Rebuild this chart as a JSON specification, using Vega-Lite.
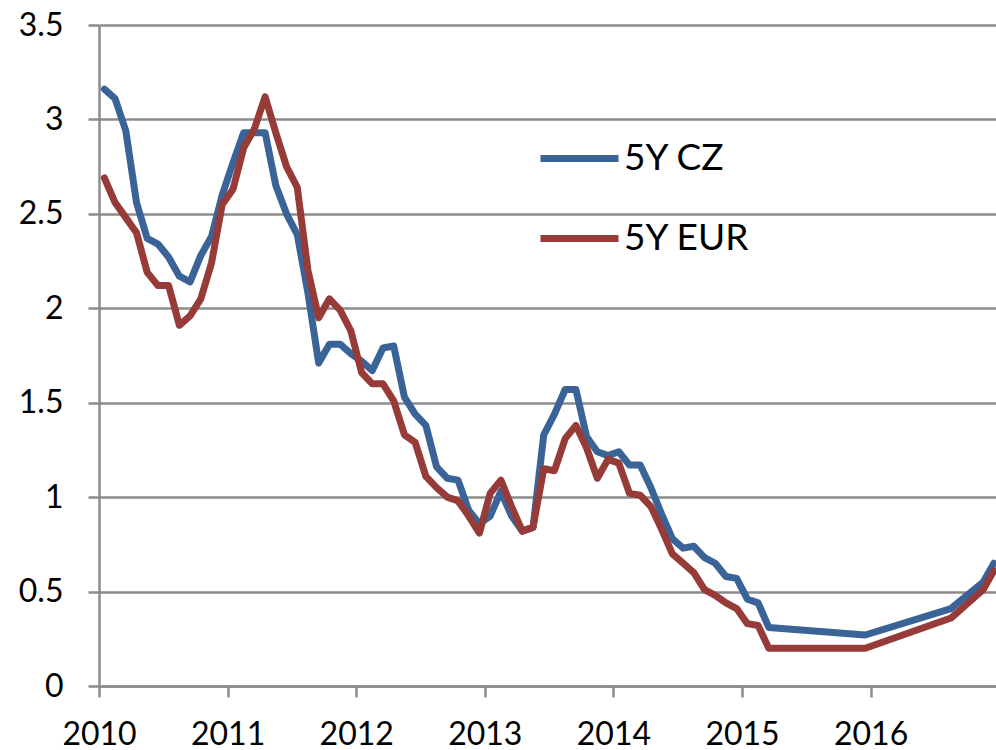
{
  "$schema": "https://vega.github.io/schema/vega-lite/v6.json",
  "width": 897,
  "height": 661,
  "autosize": {"type": "none"},
  "padding": {"left": 99, "top": 25, "right": 0, "bottom": 64},
  "background": "white",
  "config": {
    "view": {"stroke": null},
    "font": "Lato"
  },
  "datasets": {
    "rates": [
      {"t": 2010.0417, "s": "5Y CZ", "v": 3.16}, {"t": 2010.125, "s": "5Y CZ", "v": 3.11}, {"t": 2010.2083, "s": "5Y CZ", "v": 2.94}, {"t": 2010.2917, "s": "5Y CZ", "v": 2.56},
      {"t": 2010.375, "s": "5Y CZ", "v": 2.37}, {"t": 2010.4583, "s": "5Y CZ", "v": 2.34}, {"t": 2010.5417, "s": "5Y CZ", "v": 2.27}, {"t": 2010.625, "s": "5Y CZ", "v": 2.17},
      {"t": 2010.7083, "s": "5Y CZ", "v": 2.14}, {"t": 2010.7917, "s": "5Y CZ", "v": 2.28}, {"t": 2010.875, "s": "5Y CZ", "v": 2.38}, {"t": 2010.9583, "s": "5Y CZ", "v": 2.6},
      {"t": 2011.0417, "s": "5Y CZ", "v": 2.77}, {"t": 2011.125, "s": "5Y CZ", "v": 2.93}, {"t": 2011.2083, "s": "5Y CZ", "v": 2.93}, {"t": 2011.2917, "s": "5Y CZ", "v": 2.93},
      {"t": 2011.375, "s": "5Y CZ", "v": 2.65}, {"t": 2011.4583, "s": "5Y CZ", "v": 2.5}, {"t": 2011.5417, "s": "5Y CZ", "v": 2.39}, {"t": 2011.625, "s": "5Y CZ", "v": 2.08},
      {"t": 2011.7083, "s": "5Y CZ", "v": 1.71}, {"t": 2011.7917, "s": "5Y CZ", "v": 1.81}, {"t": 2011.875, "s": "5Y CZ", "v": 1.81}, {"t": 2011.9583, "s": "5Y CZ", "v": 1.76},
      {"t": 2012.0417, "s": "5Y CZ", "v": 1.72}, {"t": 2012.125, "s": "5Y CZ", "v": 1.67}, {"t": 2012.2083, "s": "5Y CZ", "v": 1.79}, {"t": 2012.2917, "s": "5Y CZ", "v": 1.8},
      {"t": 2012.375, "s": "5Y CZ", "v": 1.53}, {"t": 2012.4583, "s": "5Y CZ", "v": 1.44}, {"t": 2012.5417, "s": "5Y CZ", "v": 1.38}, {"t": 2012.625, "s": "5Y CZ", "v": 1.16},
      {"t": 2012.7083, "s": "5Y CZ", "v": 1.1}, {"t": 2012.7917, "s": "5Y CZ", "v": 1.09}, {"t": 2012.875, "s": "5Y CZ", "v": 0.93}, {"t": 2012.9583, "s": "5Y CZ", "v": 0.86},
      {"t": 2013.0417, "s": "5Y CZ", "v": 0.9}, {"t": 2013.125, "s": "5Y CZ", "v": 1.03}, {"t": 2013.2083, "s": "5Y CZ", "v": 0.9}, {"t": 2013.2917, "s": "5Y CZ", "v": 0.82},
      {"t": 2013.375, "s": "5Y CZ", "v": 0.84}, {"t": 2013.4583, "s": "5Y CZ", "v": 1.33}, {"t": 2013.5417, "s": "5Y CZ", "v": 1.44}, {"t": 2013.625, "s": "5Y CZ", "v": 1.57},
      {"t": 2013.7083, "s": "5Y CZ", "v": 1.57}, {"t": 2013.7917, "s": "5Y CZ", "v": 1.32}, {"t": 2013.875, "s": "5Y CZ", "v": 1.24}, {"t": 2013.9583, "s": "5Y CZ", "v": 1.22},
      {"t": 2014.0417, "s": "5Y CZ", "v": 1.24}, {"t": 2014.125, "s": "5Y CZ", "v": 1.17}, {"t": 2014.2083, "s": "5Y CZ", "v": 1.17}, {"t": 2014.2917, "s": "5Y CZ", "v": 1.05},
      {"t": 2014.375, "s": "5Y CZ", "v": 0.91}, {"t": 2014.4583, "s": "5Y CZ", "v": 0.78}, {"t": 2014.5417, "s": "5Y CZ", "v": 0.73}, {"t": 2014.625, "s": "5Y CZ", "v": 0.74},
      {"t": 2014.7083, "s": "5Y CZ", "v": 0.68}, {"t": 2014.7917, "s": "5Y CZ", "v": 0.65}, {"t": 2014.875, "s": "5Y CZ", "v": 0.58}, {"t": 2014.9583, "s": "5Y CZ", "v": 0.57},
      {"t": 2015.0417, "s": "5Y CZ", "v": 0.46}, {"t": 2015.125, "s": "5Y CZ", "v": 0.44}, {"t": 2015.2083, "s": "5Y CZ", "v": 0.31},
      {"t": 2015.9583, "s": "5Y CZ", "v": 0.27}, {"t": 2016.625, "s": "5Y CZ", "v": 0.41}, {"t": 2016.875, "s": "5Y CZ", "v": 0.55}, {"t": 2016.9583, "s": "5Y CZ", "v": 0.65},

      {"t": 2010.0417, "s": "5Y EUR", "v": 2.69}, {"t": 2010.125, "s": "5Y EUR", "v": 2.56}, {"t": 2010.2083, "s": "5Y EUR", "v": 2.48}, {"t": 2010.2917, "s": "5Y EUR", "v": 2.4},
      {"t": 2010.375, "s": "5Y EUR", "v": 2.19}, {"t": 2010.4583, "s": "5Y EUR", "v": 2.12}, {"t": 2010.5417, "s": "5Y EUR", "v": 2.12}, {"t": 2010.625, "s": "5Y EUR", "v": 1.91},
      {"t": 2010.7083, "s": "5Y EUR", "v": 1.96}, {"t": 2010.7917, "s": "5Y EUR", "v": 2.05}, {"t": 2010.875, "s": "5Y EUR", "v": 2.24}, {"t": 2010.9583, "s": "5Y EUR", "v": 2.55},
      {"t": 2011.0417, "s": "5Y EUR", "v": 2.63}, {"t": 2011.125, "s": "5Y EUR", "v": 2.85}, {"t": 2011.2083, "s": "5Y EUR", "v": 2.95}, {"t": 2011.2917, "s": "5Y EUR", "v": 3.12},
      {"t": 2011.375, "s": "5Y EUR", "v": 2.93}, {"t": 2011.4583, "s": "5Y EUR", "v": 2.75}, {"t": 2011.5417, "s": "5Y EUR", "v": 2.64}, {"t": 2011.625, "s": "5Y EUR", "v": 2.2},
      {"t": 2011.7083, "s": "5Y EUR", "v": 1.95}, {"t": 2011.7917, "s": "5Y EUR", "v": 2.05}, {"t": 2011.875, "s": "5Y EUR", "v": 1.99}, {"t": 2011.9583, "s": "5Y EUR", "v": 1.88},
      {"t": 2012.0417, "s": "5Y EUR", "v": 1.66}, {"t": 2012.125, "s": "5Y EUR", "v": 1.6}, {"t": 2012.2083, "s": "5Y EUR", "v": 1.6}, {"t": 2012.2917, "s": "5Y EUR", "v": 1.51},
      {"t": 2012.375, "s": "5Y EUR", "v": 1.33}, {"t": 2012.4583, "s": "5Y EUR", "v": 1.29}, {"t": 2012.5417, "s": "5Y EUR", "v": 1.11}, {"t": 2012.625, "s": "5Y EUR", "v": 1.05},
      {"t": 2012.7083, "s": "5Y EUR", "v": 1.0}, {"t": 2012.7917, "s": "5Y EUR", "v": 0.98}, {"t": 2012.875, "s": "5Y EUR", "v": 0.9}, {"t": 2012.9583, "s": "5Y EUR", "v": 0.81},
      {"t": 2013.0417, "s": "5Y EUR", "v": 1.02}, {"t": 2013.125, "s": "5Y EUR", "v": 1.09}, {"t": 2013.2083, "s": "5Y EUR", "v": 0.95}, {"t": 2013.2917, "s": "5Y EUR", "v": 0.82},
      {"t": 2013.375, "s": "5Y EUR", "v": 0.84}, {"t": 2013.4583, "s": "5Y EUR", "v": 1.15}, {"t": 2013.5417, "s": "5Y EUR", "v": 1.14}, {"t": 2013.625, "s": "5Y EUR", "v": 1.31},
      {"t": 2013.7083, "s": "5Y EUR", "v": 1.38}, {"t": 2013.7917, "s": "5Y EUR", "v": 1.26}, {"t": 2013.875, "s": "5Y EUR", "v": 1.1}, {"t": 2013.9583, "s": "5Y EUR", "v": 1.2},
      {"t": 2014.0417, "s": "5Y EUR", "v": 1.18}, {"t": 2014.125, "s": "5Y EUR", "v": 1.02}, {"t": 2014.2083, "s": "5Y EUR", "v": 1.01}, {"t": 2014.2917, "s": "5Y EUR", "v": 0.95},
      {"t": 2014.375, "s": "5Y EUR", "v": 0.83}, {"t": 2014.4583, "s": "5Y EUR", "v": 0.7}, {"t": 2014.5417, "s": "5Y EUR", "v": 0.65}, {"t": 2014.625, "s": "5Y EUR", "v": 0.6},
      {"t": 2014.7083, "s": "5Y EUR", "v": 0.51}, {"t": 2014.7917, "s": "5Y EUR", "v": 0.48}, {"t": 2014.875, "s": "5Y EUR", "v": 0.44}, {"t": 2014.9583, "s": "5Y EUR", "v": 0.41},
      {"t": 2015.0417, "s": "5Y EUR", "v": 0.33}, {"t": 2015.125, "s": "5Y EUR", "v": 0.32}, {"t": 2015.2083, "s": "5Y EUR", "v": 0.2},
      {"t": 2015.9583, "s": "5Y EUR", "v": 0.2}, {"t": 2016.625, "s": "5Y EUR", "v": 0.36}, {"t": 2016.875, "s": "5Y EUR", "v": 0.51}, {"t": 2016.9583, "s": "5Y EUR", "v": 0.61}
    ]
  },
  "data": {"name": "rates"},
  "mark": {"type": "line", "strokeWidth": 7, "strokeJoin": "round", "strokeCap": "round", "clip": true},
  "encoding": {
    "x": {
      "field": "t", "type": "quantitative",
      "scale": {"domain": [2010, 2016.975], "nice": false, "zero": false},
      "axis": {
        "title": null, "values": [2010, 2011, 2012, 2013, 2014, 2015, 2016], "format": "d",
        "grid": false, "labelFontSize": 32, "labelFont": "Lato", "labelColor": "black",
        "tickSize": 11, "tickColor": "#8c8c8c", "tickWidth": 2.5, "labelDx": 5,
        "domainColor": "#8c8c8c", "domainWidth": 2.5, "labelPadding": 22, "labelFlush": false
      }
    },
    "y": {
      "field": "v", "type": "quantitative",
      "scale": {"domain": [0, 3.5], "nice": false},
      "axis": {
        "title": null, "values": [0, 0.5, 1, 1.5, 2, 2.5, 3, 3.5], "format": "~g",
        "grid": true, "gridColor": "#8c8c8c", "gridWidth": 2.5,
        "labelFontSize": 32, "labelFont": "Lato", "labelColor": "black",
        "tickSize": 11, "tickColor": "#8c8c8c", "tickWidth": 2.5,
        "domainColor": "#8c8c8c", "domainWidth": 2.5, "labelPadding": 25
      }
    },
    "color": {
      "field": "s", "type": "nominal",
      "scale": {"domain": ["5Y CZ", "5Y EUR"], "range": ["#3A6398", "#963B38"]},
      "legend": {
        "title": null, "orient": "none", "legendX": 438, "legendY": 91,
        "symbolType": "stroke", "symbolSize": 6084, "symbolStrokeWidth": 7,
        "labelFontSize": 37, "labelFont": "Lato", "labelColor": "black",
        "labelOffset": 2, "rowPadding": 19
      }
    }
  }
}
